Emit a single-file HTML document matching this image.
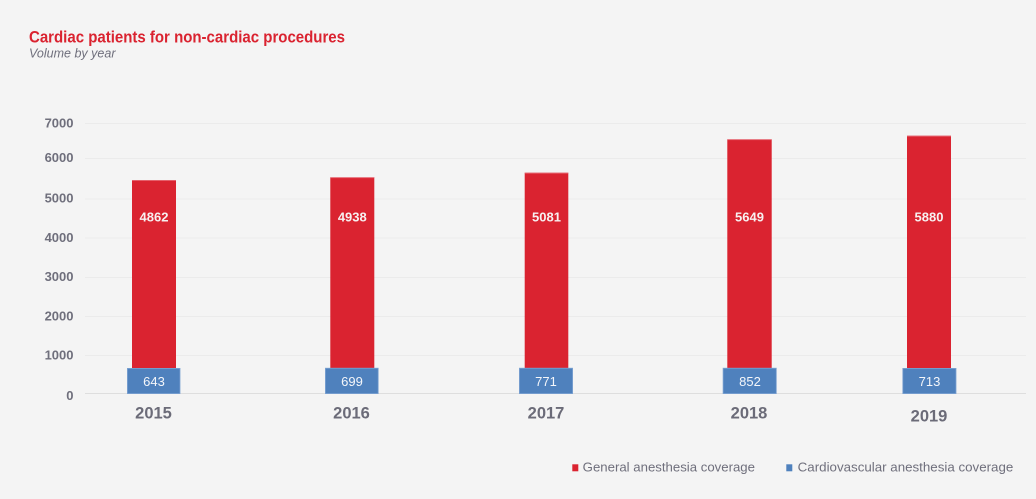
<!DOCTYPE html>
<html>
<head>
<meta charset="utf-8">
<style>
  html,body{margin:0;padding:0;background:#f4f4f4;}
  svg{display:block;font-family:"Liberation Sans",Arial,sans-serif;}
</style>
</head>
<body>
<svg width="1036" height="499" viewBox="0 0 1036 499" xmlns="http://www.w3.org/2000/svg">
  <rect x="0" y="0" width="1036" height="499" fill="#f4f4f4"/>

  <!-- Title -->
  <text x="29" y="42.7" font-size="16.4" font-weight="bold" fill="#da2330" textLength="316" lengthAdjust="spacingAndGlyphs">Cardiac patients for non-cardiac procedures</text>
  <text x="29" y="57.5" font-size="12.5" font-style="italic" fill="#6f6f7c" textLength="86.5" lengthAdjust="spacingAndGlyphs">Volume by year</text>

  <!-- Gridlines -->
  <g stroke="#ebebeb" stroke-width="1">
    <line x1="85" y1="123.5" x2="1026" y2="123.5"/>
    <line x1="85" y1="158.5" x2="1026" y2="158.5"/>
    <line x1="85" y1="199" x2="1026" y2="199"/>
    <line x1="85" y1="238" x2="1026" y2="238"/>
    <line x1="85" y1="277.5" x2="1026" y2="277.5"/>
    <line x1="85" y1="316.5" x2="1026" y2="316.5"/>
    <line x1="85" y1="355.5" x2="1026" y2="355.5"/>
  </g>
  <line x1="85" y1="393.5" x2="1026" y2="393.5" stroke="#dedede" stroke-width="1"/>

  <!-- Y labels -->
  <g font-size="13" font-weight="bold" fill="#6f6f7c" text-anchor="end">
    <text x="73.5" y="127.3">7000</text>
    <text x="73.5" y="162.2">6000</text>
    <text x="73.5" y="202.7">5000</text>
    <text x="73.5" y="241.9">4000</text>
    <text x="73.5" y="281.2">3000</text>
    <text x="73.5" y="320.5">2000</text>
    <text x="73.5" y="359.7">1000</text>
    <text x="73.5" y="400">0</text>
  </g>

  <!-- Red bars -->
  <g fill="#da2330">
    <rect x="132" y="180" width="44" height="214"/>
    <rect x="330.3" y="177.3" width="44" height="216.7"/>
    <rect x="524.7" y="172.7" width="43.6" height="221.3"/>
    <rect x="727.3" y="139.3" width="44.4" height="254.7"/>
    <rect x="907" y="135.7" width="44" height="258.3"/>
  </g>
  <!-- subtle light top edge of red bars -->
  <g fill="#e8707a">
    <rect x="132" y="180" width="44" height="0.8"/>
    <rect x="330.3" y="177.3" width="44" height="0.8"/>
    <rect x="524.7" y="172.7" width="43.6" height="0.8"/>
    <rect x="727.3" y="139.3" width="44.4" height="0.8"/>
    <rect x="907" y="135.7" width="44" height="0.8"/>
  </g>

  <!-- Blue bars -->
  <g fill="#4f81bd" stroke="#7ea3d2" stroke-width="0.8">
    <rect x="127.4" y="368.4" width="52.6" height="25.2"/>
    <rect x="325.4" y="368.2" width="52.8" height="25.4"/>
    <rect x="519.4" y="368.2" width="53.2" height="25.4"/>
    <rect x="723.1" y="368.2" width="53.2" height="25.4"/>
    <rect x="902.8" y="368.4" width="53.2" height="25.2"/>
  </g>

  <!-- Red labels -->
  <g font-size="13" font-weight="bold" fill="#f7f0f0" text-anchor="middle">
    <text x="154" y="221.7">4862</text>
    <text x="352.3" y="221.7">4938</text>
    <text x="546.5" y="221.7">5081</text>
    <text x="749.5" y="221.7">5649</text>
    <text x="929" y="221.7">5880</text>
  </g>

  <!-- Blue labels -->
  <g font-size="13" fill="#f4f6fa" text-anchor="middle">
    <text x="154" y="386">643</text>
    <text x="352" y="386">699</text>
    <text x="546" y="386">771</text>
    <text x="750" y="386">852</text>
    <text x="929.5" y="386">713</text>
  </g>

  <!-- Year labels -->
  <g font-size="16.5" font-weight="bold" fill="#6b6b78" text-anchor="middle">
    <text x="153.5" y="418.7">2015</text>
    <text x="351.5" y="418.7">2016</text>
    <text x="546" y="418.7">2017</text>
    <text x="749" y="418.7">2018</text>
    <text x="929" y="421.3">2019</text>
  </g>

  <!-- Legend -->
  <rect x="572.3" y="464.3" width="6" height="7" fill="#da2330"/>
  <text x="582.7" y="471.7" font-size="13" fill="#6f6f7c" textLength="172.3" lengthAdjust="spacingAndGlyphs">General anesthesia coverage</text>
  <rect x="786.3" y="464.3" width="6" height="7" fill="#4f81bd"/>
  <text x="797.7" y="471.7" font-size="13" fill="#6f6f7c" textLength="215.6" lengthAdjust="spacingAndGlyphs">Cardiovascular anesthesia coverage</text>
</svg>
</body>
</html>
